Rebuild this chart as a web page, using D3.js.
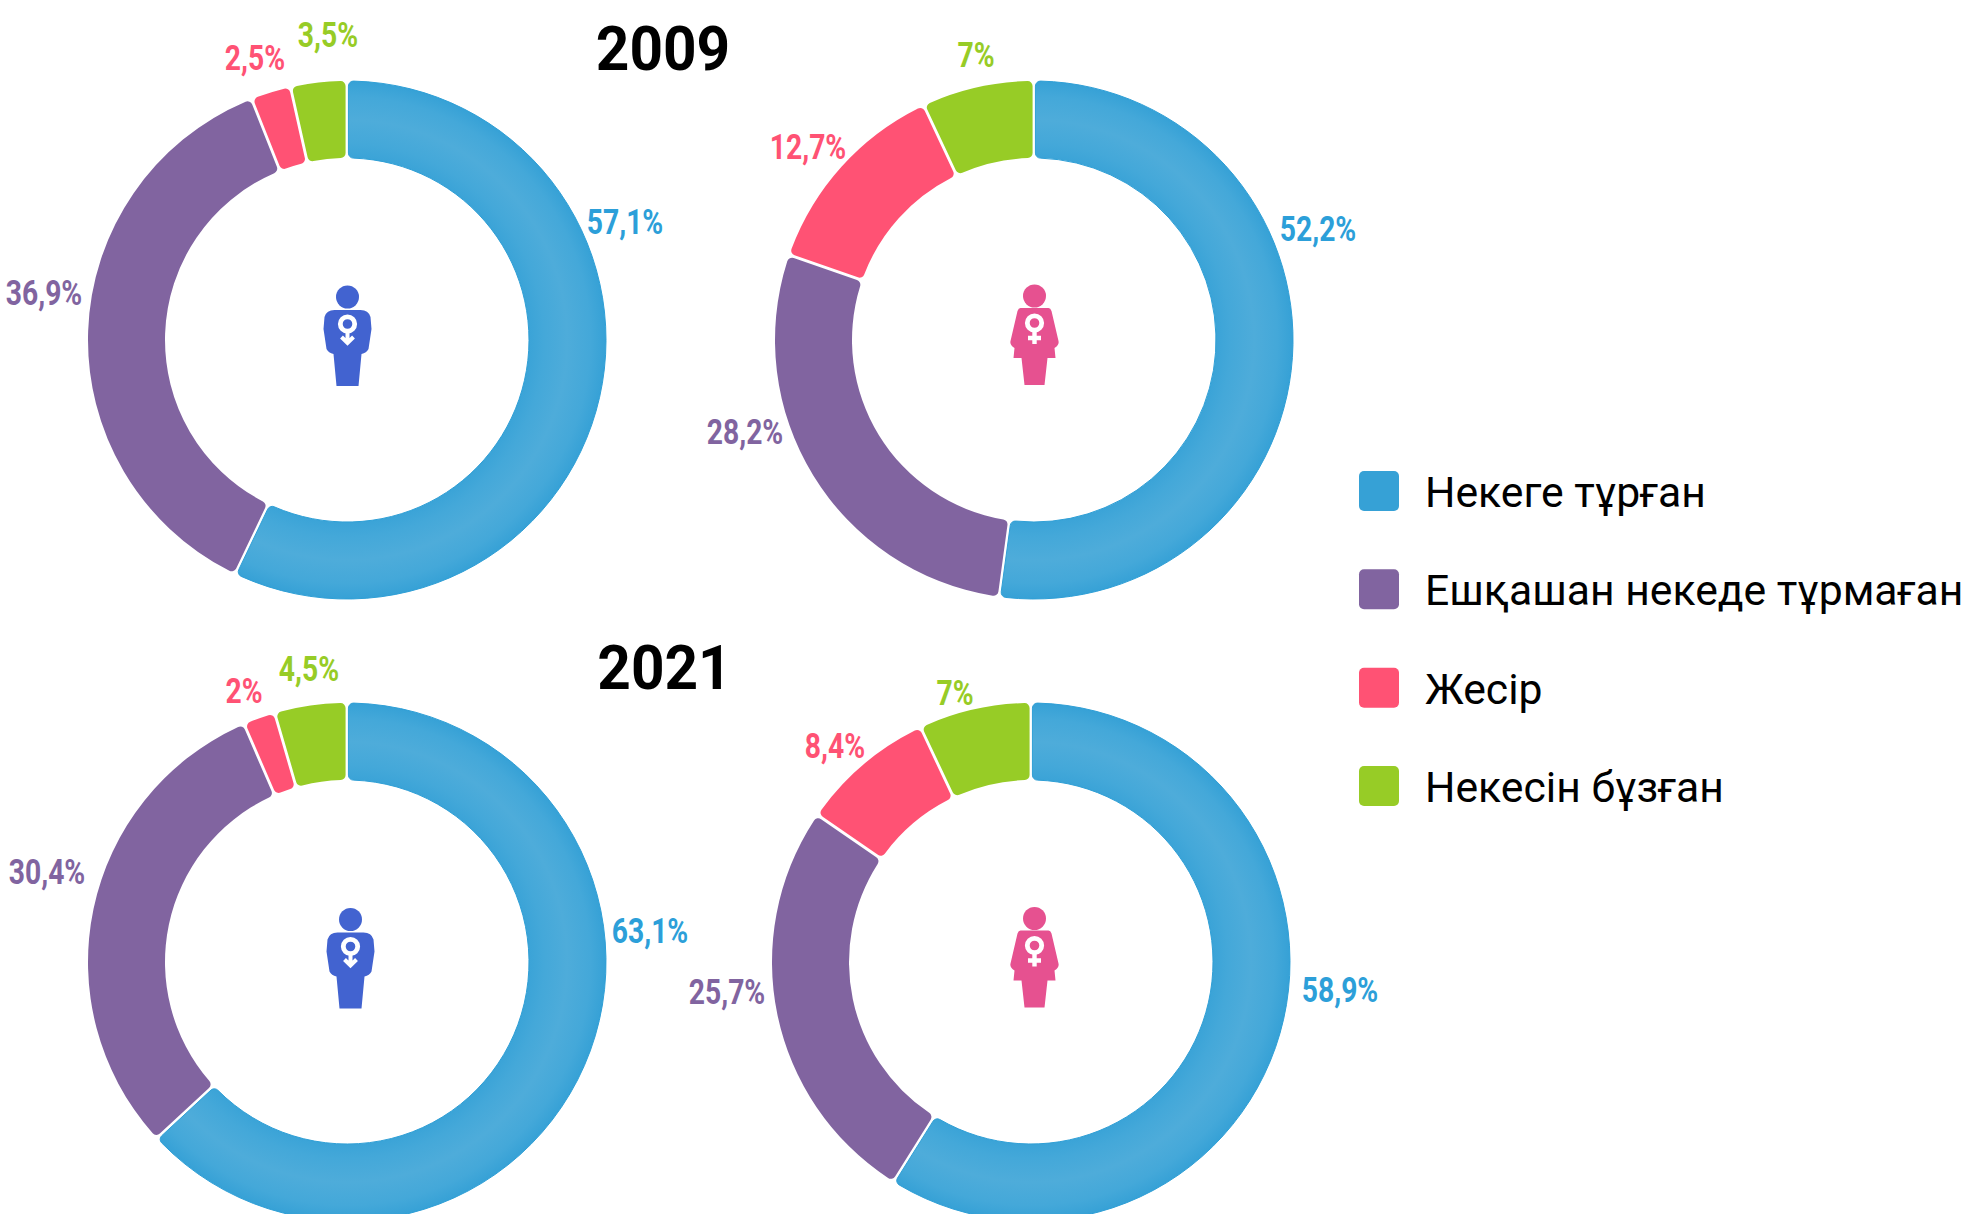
<!DOCTYPE html>
<html>
<head>
<meta charset="utf-8">
<script src="https://cdnjs.cloudflare.com/ajax/libs/d3/7.8.5/d3.min.js"></script>
<style>
    html, body { margin: 0; padding: 0; background: #fff; overflow: hidden; }
    text { font-family: Roboto, sans-serif; }
</style>
</head>
<body>
<div id="chart"></div>
<script>
// Data
const categories = ['Некеге тұрған', 'Ешқашан некеде тұрмаған', 'Жесір', 'Некесін бұзған'];
const colors = ['#36a1d6', '#8164a0', '#ff5274', '#97cc26'];
const labelColors = ['#2c9fd9', '#8164a0', '#ff5274', '#97cc26'];

const men2009 = [57.1, 36.9, 2.5, 3.5];
const women2009 = [52.2, 28.2, 12.7, 7];
const men2021 = [63.1, 30.4, 2, 4.5];
const women2021 = [58.9, 25.7, 8.4, 7];

const men2009Labels = ['57,1%', '36,9%', '2,5%', '3,5%'];
const women2009Labels = ['52,2%', '28,2%', '12,7%', '7%'];
const men2021Labels = ['63,1%', '30,4%', '2%', '4,5%'];
const women2021Labels = ['58,9%', '25,7%', '8,4%', '7%'];

const years = ['2009', '2021'];

const width = 1973;
const height = 1214;
const outerRadius = 259;
const innerRadius = 182;

// hand placed label centres, relative to each donut centre
const panels = [
    { values: men2009, labels: men2009Labels, cx: 347, cy: 340, icon: 'man', iconX: 347.5, iconY: 338,
      offsets: [[278, -117], [-303, -46], [-92, -281], [-19, -304]] },
    { values: women2009, labels: women2009Labels, cx: 1034, cy: 340, icon: 'woman', iconX: 1034.5, iconY: 337,
      offsets: [[284, -110], [-289, 93], [-226, -192], [-58, -284]] },
    { values: men2021, labels: men2021Labels, cx: 347, cy: 962, icon: 'man', iconX: 350.5, iconY: 960.5,
      offsets: [[303, -30], [-300, -89], [-103, -270], [-38, -292]] },
    { values: women2021, labels: women2021Labels, cx: 1031, cy: 962, icon: 'woman', iconX: 1034.5, iconY: 959.5,
      offsets: [[309, 29], [-304, 31], [-196, -215], [-76, -268]] }
];

const svg = d3.select('#chart')
    .append('svg')
    .attr('width', width)
    .attr('height', height);

const defs = svg.append('defs');

// soft lighter band through the middle of the blue ring
const blueGlow = defs.append('radialGradient')
    .attr('id', 'blue-glow')
    .attr('gradientUnits', 'userSpaceOnUse')
    .attr('cx', 0).attr('cy', 0).attr('r', outerRadius);
blueGlow.append('stop').attr('offset', 0.70).attr('stop-color', '#3aa3d7');
blueGlow.append('stop').attr('offset', 0.76).attr('stop-color', '#44a8d9');
blueGlow.append('stop').attr('offset', 0.85).attr('stop-color', '#4eacda');
blueGlow.append('stop').attr('offset', 0.94).attr('stop-color', '#44a8d9');
blueGlow.append('stop').attr('offset', 1).attr('stop-color', '#36a1d6');

const pie = d3.pie().sort(null).value(d => d);

const arc = d3.arc()
    .innerRadius(innerRadius)
    .outerRadius(outerRadius)
    .cornerRadius(5)
    .padAngle(0.009);

// person icons, drawn around (0,0) at the middle of the figure
const manPath = 'M-13,-28 Q-21,-28 -23,-21 L-24,-9 L-21,11 Q-19,15 -14,16 L-11,48 L11,48 L14,16 Q19,15 21,11 L24,-9 L23,-21 Q21,-28 13,-28 Z';
const womanPath = 'M-14,-29 Q-16,-29 -17,-26 L-24,4 Q-25,8 -20,11 L-21,21 L-13,21 L-10,48 L10,48 L13,21 L21,21 L20,11 Q25,8 24,4 L17,-26 Q16,-29 14,-29 Z';

function drawIcon(g, type) {
    const color = type === 'man' ? '#4263d0' : '#e65190';
    g.append('circle').attr('cy', -41).attr('r', 11.5).attr('fill', color);
    g.append('path').attr('d', type === 'man' ? manPath : womanPath).attr('fill', color);
    g.append('circle').attr('cy', -14).attr('r', 7.2)
        .attr('fill', 'none').attr('stroke', '#fff').attr('stroke-width', 4.8);
    if (type === 'man') {
        g.append('path')
            .attr('d', 'M0,-6 L0,5 M-6,-1 L0,5 L6,-1')
            .attr('fill', 'none').attr('stroke', '#fff').attr('stroke-width', 4);
    } else {
        g.append('path')
            .attr('d', 'M0,-6 L0,7 M-6.5,1 L6.5,1')
            .attr('fill', 'none').attr('stroke', '#fff').attr('stroke-width', 4.4);
    }
}

panels.forEach(p => {
    const g = svg.append('g').attr('transform', `translate(${p.cx},${p.cy})`);

    g.selectAll('path.slice')
        .data(pie(p.values))
        .enter()
        .append('path')
        .attr('class', 'slice')
        .attr('d', arc)
        .attr('fill', (d, i) => i === 0 ? 'url(#blue-glow)' : colors[i])
        .attr('stroke', (d, i) => i === 0 ? '#2f9fd6' : 'none')
        .attr('stroke-width', 1);

    g.selectAll('text.value')
        .data(p.labels)
        .enter()
        .append('text')
        .attr('class', 'value')
        .attr('transform', (d, i) => `translate(${p.offsets[i][0]},${p.offsets[i][1]}) scale(0.82,1)`)
        .attr('text-anchor', 'middle')
        .attr('dominant-baseline', 'central')
        .attr('font-size', 34.5)
        .attr('font-weight', 700)
        .attr('fill', (d, i) => labelColors[i])
        .text(d => d);

    const icon = svg.append('g').attr('transform', `translate(${p.iconX},${p.iconY})`);
    drawIcon(icon, p.icon);
});

// year headings
svg.selectAll('text.year')
    .data(years)
    .enter()
    .append('text')
    .attr('class', 'year')
    .attr('transform', (d, i) => `translate(${i === 0 ? 663 : 664.5},${i === 0 ? 70 : 689}) scale(0.96,1)`)
    .attr('text-anchor', 'middle')
    .attr('font-size', 61)
    .attr('font-weight', 700)
    .attr('fill', '#000')
    .text(d => d);

// legend
const legendY = d3.scalePoint()
    .domain(categories)
    .range([491, 786]);

const legend = svg.selectAll('g.legend')
    .data(categories)
    .enter()
    .append('g')
    .attr('class', 'legend')
    .attr('transform', d => `translate(1359,${legendY(d)})`);

legend.append('rect')
    .attr('x', 0).attr('y', -20)
    .attr('width', 40).attr('height', 40)
    .attr('rx', 5)
    .attr('fill', (d, i) => colors[i]);

legend.append('text')
    .attr('x', 66)
    .attr('y', 16)
    .attr('font-size', 42.7)
    .attr('fill', '#000')
    .text(d => d);
</script>
</body>
</html>
